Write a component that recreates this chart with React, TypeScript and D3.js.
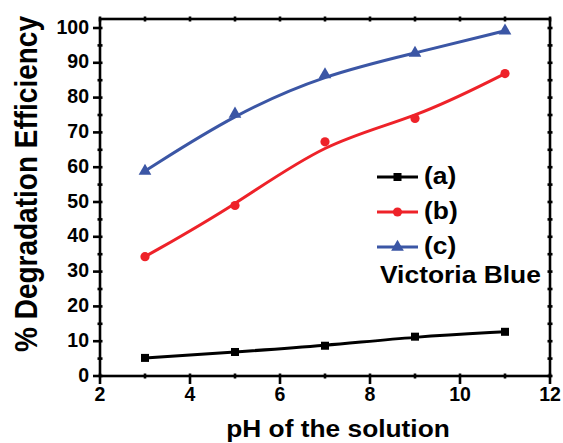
import React from "react";
import * as d3 from "d3";

const phValues = [3, 5, 7, 9, 11];
const seriesA = [5.2, 6.9, 8.7, 11.3, 12.7];
const seriesB = [34.3, 49.0, 67.3, 74.0, 86.9];
const seriesC = [58.9, 75.3, 86.6, 92.8, 99.2];
const xTicks = [2, 4, 6, 8, 10, 12];
const yTicks = [0, 10, 20, 30, 40, 50, 60, 70, 80, 90, 100];
const legendLabels = ["(a)", "(b)", "(c)"];

const W = 563, H = 443;
const L = 100, R = 550, T = 19, B = 376;
const font = "'Liberation Sans', Arial, sans-serif";

export default function App() {
  const x = d3.scaleLinear().domain([2, 12]).range([L, R]);
  const y = d3.scaleLinear().domain([0, 100]).range([B, 28]);
  const line = d3
    .line<[number, number]>()
    .x((d) => x(d[0]))
    .y((d) => y(d[1]))
    .curve(d3.curveBasis);
  const series = [
    { vals: seriesA, color: "#000000", shape: "square" },
    { vals: seriesB, color: "#ee2229", shape: "circle" },
    { vals: seriesC, color: "#3b56a5", shape: "triangle" },
  ];
  const marker = (shape: string, cx: number, cy: number, color: string, k: string) => {
    if (shape === "square") return <rect key={k} x={cx - 4} y={cy - 4} width={8} height={8} fill={color} />;
    if (shape === "circle") return <circle key={k} cx={cx} cy={cy} r={4.6} fill={color} />;
    const s = d3.symbol(d3.symbolTriangle, 70)();
    return <path key={k} d={s || ""} transform={`translate(${cx},${cy})`} fill={color} />;
  };
  const minorX = d3.range(2, 12.01, 1);
  const minorY = d3.range(0, 100.01, 5);
  const sw = 2.6;
  return (
    <svg width={W} height={H} style={{ position: "absolute", left: 0, top: 0, background: "#fff" }}>
      {/* frame */}
      <rect x={L} y={T} width={R - L} height={B - T} fill="none" stroke="#000" strokeWidth={sw} />
      {/* x ticks */}
      {minorX.map((v) => {
        const major = v % 2 === 0;
        return (
          <g key={"xt" + v}>
            {major ? (
              <line x1={x(v)} x2={x(v)} y1={B - 2.5} y2={B + 8} stroke="#000" strokeWidth={sw} />
            ) : (
              <line x1={x(v)} x2={x(v)} y1={B - 2.5} y2={B + 2.5} stroke="#000" strokeWidth={sw} />
            )}
            <line x1={x(v)} x2={x(v)} y1={T - 2.5} y2={T + 2.5} stroke="#000" strokeWidth={sw} />
          </g>
        );
      })}
      {minorY.map((v) => {
        const major = v % 10 === 0;
        return (
          <g key={"yt" + v}>
            {major ? (
              <line x1={L - 7} x2={L + 2.5} y1={y(v)} y2={y(v)} stroke="#000" strokeWidth={sw} />
            ) : (
              <line x1={L - 2.5} x2={L + 2.5} y1={y(v)} y2={y(v)} stroke="#000" strokeWidth={sw} />
            )}
            <line x1={R - 2.5} x2={R + 2.5} y1={y(v)} y2={y(v)} stroke="#000" strokeWidth={sw} />
          </g>
        );
      })}
      {xTicks.map((v) => (
        <text key={"xl" + v} x={x(v)} y={B + 25} textAnchor="middle" fontFamily={font} fontWeight="bold" fontSize={19.5}>
          {v}
        </text>
      ))}
      {yTicks.map((v) => (
        <text key={"yl" + v} x={L - 11} y={y(v) + 5.5} textAnchor="end" fontFamily={font} fontWeight="bold" fontSize={19.5}>
          {v}
        </text>
      ))}
      <text
        transform={`translate(338, 437) scale(1.12,1)`}
        textAnchor="middle"
        fontFamily={font}
        fontWeight="bold"
        fontSize={23.5}
      >
        pH of the solution
      </text>
      <text
        transform={`translate(37, 184) scale(1.12,1) rotate(-90)`}
        textAnchor="middle"
        fontFamily={font}
        fontWeight="bold"
        fontSize={28}
      >
        % Degradation Efficiency
      </text>
      {series.map((s, i) => {
        const pts: [number, number][] = phValues.map((p, j) => [p, s.vals[j]]);
        return (
          <g key={"s" + i}>
            <path d={line(pts) || ""} fill="none" stroke={s.color} strokeWidth={3} />
            {pts.map((p, j) => marker(s.shape, x(p[0]), y(p[1]), s.color, "m" + i + j))}
          </g>
        );
      })}
      {/* legend */}
      {series.map((s, i) => {
        const ly = [177, 212, 247][i];
        return (
          <g key={"lg" + i}>
            <line x1={377} x2={418} y1={ly} y2={ly} stroke={s.color} strokeWidth={3} />
            {marker(s.shape, 397.5, ly, s.color, "lm" + i)}
            <text transform={`translate(424, ${ly + 7}) scale(1.1,1)`} fontFamily={font} fontWeight="bold" fontSize={24}>
              {legendLabels[i]}
            </text>
          </g>
        );
      })}
      <text transform={`translate(380, 283) scale(1.1,1)`} fontFamily={font} fontWeight="bold" fontSize={24}>
        Victoria Blue
      </text>
    </svg>
  );
}
